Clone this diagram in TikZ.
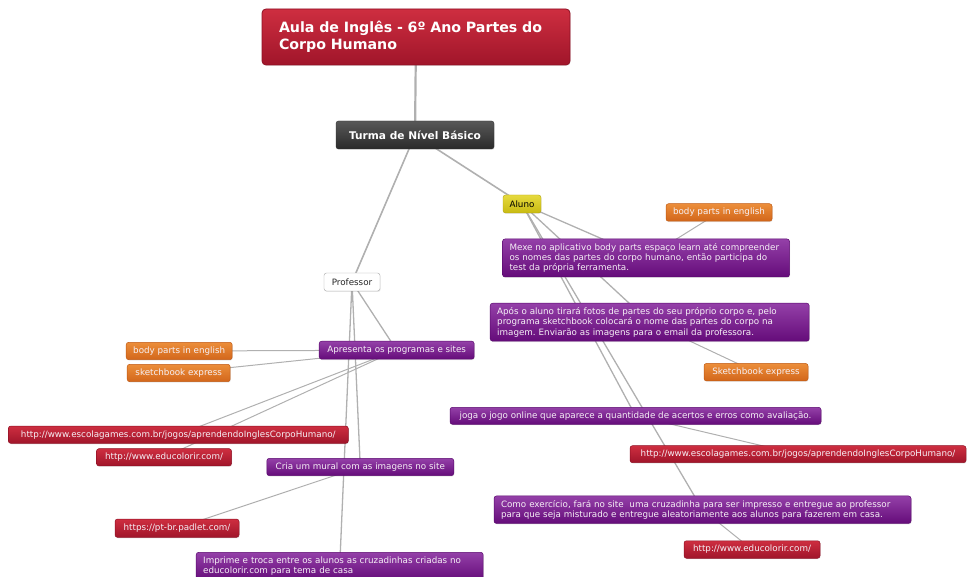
\documentclass[tikz,border=0pt]{standalone}
\usepackage{fontspec}
\setmainfont{DejaVu Sans}
\usetikzlibrary{backgrounds,shadows}
\frenchspacing
\definecolor{purpT}{HTML}{9440A8}
\definecolor{purpB}{HTML}{650C7A}
\definecolor{purpD}{HTML}{5A0A6E}
\definecolor{redT}{HTML}{CE2E40}
\definecolor{redB}{HTML}{A0152A}
\definecolor{redD}{HTML}{8E1024}
\definecolor{oraT}{HTML}{EC8E3A}
\definecolor{oraB}{HTML}{D2661B}
\definecolor{oraD}{HTML}{C05A14}
\definecolor{yelT}{HTML}{E6DA3E}
\definecolor{yelB}{HTML}{C8BA12}
\definecolor{yelD}{HTML}{B0A210}
\definecolor{darkT}{HTML}{585858}
\definecolor{darkB}{HTML}{2A2A2A}
\definecolor{lineC}{HTML}{B0B0B0}
\definecolor{txtW}{HTML}{F6F0F6}
\newcommand{\fs}{\fontsize{8.75}{10.4}\selectfont}
\begin{document}
\begin{tikzpicture}[x=1pt,y=-1pt,
  box/.style={rounded corners=2.5pt, inner sep=0pt, align=left, font=\fs, text=txtW,
    drop shadow={opacity=0.18, shadow xshift=0.6pt, shadow yshift=-0.9pt}},
  purp/.style={box, top color=purpT, bottom color=purpB, draw=purpD, line width=0.5pt},
  redb/.style={box, top color=redT, bottom color=redB, draw=redD, line width=0.5pt},
  orab/.style={box, top color=oraT, bottom color=oraB, draw=oraD, line width=0.5pt},
  multi/.style={inner xsep=7pt},
  conn/.style={draw=lineC, line cap=round},
  lvA/.style={conn, line width=2.2pt},
  lvB/.style={conn, line width=1.6pt},
  lvC/.style={conn, line width=1.3pt},
  lvD/.style={conn, line width=1pt}]
\useasboundingbox (0,0) rectangle (967,577);

% main nodes
\node[box, top color=redT, bottom color=redB, draw=redD, line width=0.8pt, rounded corners=4pt,
  minimum height=56pt, text width=274pt, inner xsep=17pt,
  font=\bfseries\fontsize{14.2}{16.5}\selectfont, text=white] (title) at (416,37)
  {Aula de Inglês - 6º Ano Partes do\\Corpo Humano};
\node[box, top color=darkT, bottom color=darkB, draw=black!80, minimum width=158pt, minimum height=28pt,
  font=\bfseries\fontsize{10.6}{12}\selectfont, text=white] (turma) at (415,135) {Turma de Nível Básico};
\node[box, top color=yelT, bottom color=yelB, draw=yelD, minimum width=38pt, minimum height=18pt,
  text=black] (aluno) at (522,204) {Aluno};
\node[box, fill=white, draw=black!35, minimum width=56pt, minimum height=18pt,
  text=black!85] (prof) at (352,282) {Professor};

% Aluno branch
\node[orab, minimum width=106pt, minimum height=17.5pt] (bodyR) at (719,212.5) {body parts in english};
\node[purp, multi, text width=273pt, minimum height=38pt] (mexe) at (646,258)
  {Mexe no aplicativo body parts espaço learn até compreender\\os nomes das partes do corpo humano, então participa do\\test da própria ferramenta.};
\node[purp, multi, text width=305pt, minimum height=38pt] (apos) at (649.7,322.2)
  {Após o aluno tirará fotos de partes do seu próprio corpo e, pelo\\programa sketchbook colocará o nome das partes do corpo na\\imagem. Enviarão as imagens para o email da professora.};
\node[orab, minimum width=104pt, minimum height=17.5pt] (sketchR) at (756,372.2) {Sketchbook express};
\node[purp, minimum width=371pt, minimum height=17pt] (joga) at (635.5,415.8)
  {joga o jogo online que aparece a quantidade de acertos e erros como avaliação.};
\node[redb, minimum width=336pt, minimum height=17pt] (escolaR) at (798,454.2)
  {http://www.escolagames.com.br/jogos/aprendendoInglesCorpoHumano/};
\node[purp, multi, text width=403pt, minimum height=27.5pt] (como) at (702.5,509.7)
  {Como exercício, fará no site~ uma cruzadinha para ser impresso e entregue ao professor\\para que seja misturado e entregue aleatoriamente aos alunos para fazerem em casa.};
\node[redb, minimum width=136pt, minimum height=17.5pt] (educoR) at (752,549.5) {http://www.educolorir.com/};

% Professor branch
\node[purp, minimum width=155pt, minimum height=18pt] (apres) at (396.7,350.2) {Apresenta os programas e sites};
\node[orab, minimum width=106pt, minimum height=17.4pt] (bodyL) at (179.2,351) {body parts in english};
\node[orab, minimum width=103pt, minimum height=17.4pt] (sketchL) at (178.7,373) {sketchbook express};
\node[redb, minimum width=340pt, minimum height=17.3pt] (escolaL) at (178.3,434.7)
  {http://www.escolagames.com.br/jogos/aprendendoInglesCorpoHumano/};
\node[redb, minimum width=135pt, minimum height=17.3pt] (educoL) at (164,457.3) {http://www.educolorir.com/};
\node[purp, minimum width=187pt, minimum height=17.3pt] (cria) at (360.3,467) {Cria um mural com as imagens no site};
\node[redb, minimum width=124pt, minimum height=18.3pt] (padlet) at (177,528.2) {https://pt-br.padlet.com/};
\node[purp, multi, text width=273pt, minimum height=28pt] (impr) at (339.7,566.3)
  {Imprime e troca entre os alunos as cruzadinhas criadas no\\educolorir.com para tema de casa};

\begin{scope}[on background layer]
  \draw[lvA] (title.center) -- (turma.center);
  \draw[lvB] (turma.center) -- (prof.center);
  \draw[lvB] (turma.center) -- (aluno.center);
  \draw[lvC] (aluno.center) -- (mexe.center);
  \draw[lvC] (aluno.center) -- (apos.center);
  \draw[lvC] (aluno.center) -- (joga.center);
  \draw[lvC] (aluno.center) -- (como.center);
  \draw[lvD] (mexe.center) -- (bodyR.center);
  \draw[lvD] (apos.center) -- (sketchR.center);
  \draw[lvD] (joga.center) -- (escolaR.center);
  \draw[lvD] (como.center) -- (educoR.center);
  \draw[lvC] (prof.center) -- (apres.center);
  \draw[lvC] (prof.center) -- (cria.center);
  \draw[lvC] (prof.center) -- (impr.center);
  \draw[lvD] (apres.center) -- (bodyL.center);
  \draw[lvD] (apres.center) -- (sketchL.center);
  \draw[lvD] (apres.center) -- (escolaL.center);
  \draw[lvD] (apres.center) -- (educoL.center);
  \draw[lvD] (cria.center) -- (padlet.center);
\end{scope}
\end{tikzpicture}
\end{document}
